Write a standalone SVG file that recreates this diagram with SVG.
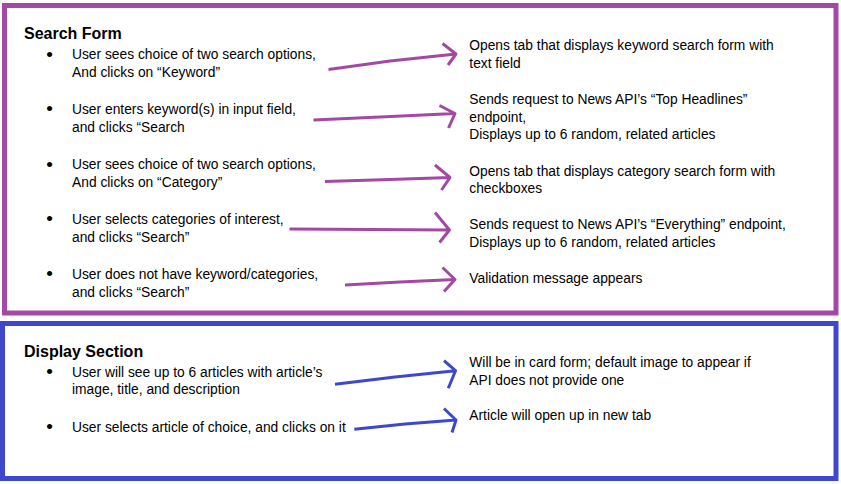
<svg xmlns="http://www.w3.org/2000/svg" width="841" height="484" viewBox="0 0 841 484">
<style>
.t{font-family:"Liberation Sans",Arial,sans-serif;font-size:13.8px;fill:#000}
.h{font-family:"Liberation Sans",Arial,sans-serif;font-size:16px;font-weight:bold;fill:#000}
.b{font-family:"Liberation Sans",Arial,sans-serif;font-size:19px;fill:#000}
.p{fill:none;stroke:#A349A4;stroke-width:3;stroke-linejoin:round}
.q{fill:none;stroke:#3F48CC;stroke-width:3;stroke-linejoin:round}
</style>
<rect width="841" height="484" fill="#fff"/>
<g id="search-form">
<rect x="4.5" y="5.5" width="831.5" height="307.5" fill="none" stroke="#A349A4" stroke-width="5"/>
<text class="h" x="24" y="39">Search Form</text>
</g>
<g id="display-section">
<rect x="2.5" y="323.5" width="833.5" height="155" fill="none" stroke="#3F48CC" stroke-width="5"/>
<text class="h" x="24" y="357.3">Display Section</text>
</g>
<g id="s1">
<text class="b" x="46.2" y="60.7">•</text>
<text class="t" x="72" y="59.3">User sees choice of two search options,</text>
<text class="t" x="72" y="76.7">And clicks on “Keyword”</text>
</g>
<g id="s2">
<text class="b" x="46.2" y="115.4">•</text>
<text class="t" x="72" y="114">User enters keyword(s) in input field,</text>
<text class="t" x="72" y="131.5">and clicks “Search</text>
</g>
<g id="s3">
<text class="b" x="46.2" y="170.7">•</text>
<text class="t" x="72" y="169.3">User sees choice of two search options,</text>
<text class="t" x="72" y="186.7">And clicks on “Category”</text>
</g>
<g id="s4">
<text class="b" x="46.2" y="225.4">•</text>
<text class="t" x="72" y="224">User selects categories of interest,</text>
<text class="t" x="72" y="241.7">and clicks “Search”</text>
</g>
<g id="s5">
<text class="b" x="46.2" y="280.4">•</text>
<text class="t" x="72" y="279">User does not have keyword/categories,</text>
<text class="t" x="72" y="296.7">and clicks “Search”</text>
</g>
<g id="r1">
<text class="t" x="469.3" y="50">Opens tab that displays keyword search form with</text>
<text class="t" x="469.3" y="67.5">text field</text>
</g>
<g id="r2">
<text class="t" x="469.3" y="104">Sends request to News API’s “Top Headlines”</text>
<text class="t" x="469.3" y="121.5">endpoint,</text>
<text class="t" x="469.3" y="139">Displays up to 6 random, related articles</text>
</g>
<g id="r3">
<text class="t" x="469.3" y="175.7">Opens tab that displays category search form with</text>
<text class="t" x="469.3" y="193.2">checkboxes</text>
</g>
<g id="r4">
<text class="t" x="469.3" y="229">Sends request to News API’s “Everything” endpoint,</text>
<text class="t" x="469.3" y="246.7">Displays up to 6 random, related articles</text>
</g>
<g id="r5">
<text class="t" x="469.3" y="283.3">Validation message appears</text>
</g>
<g id="d1">
<text class="b" x="46.2" y="378.1">•</text>
<text class="t" x="72" y="376.7">User will see up to 6 articles with article’s</text>
<text class="t" x="72" y="394.3">image, title, and description</text>
</g>
<g id="d2">
<text class="b" x="46.2" y="433.1">•</text>
<text class="t" x="72" y="431.7">User selects article of choice, and clicks on it</text>
</g>
<g id="r6">
<text class="t" x="469.3" y="367">Will be in card form; default image to appear if</text>
<text class="t" x="469.3" y="384.5">API does not provide one</text>
</g>
<g id="r7">
<text class="t" x="469.3" y="420">Article will open up in new tab</text>
</g>
<g id="connectors">
<path class="p" d="M328.5,69.5 L390,61 L456,54 M442.5,43.5 L456,54 L448,65"/>
<path class="p" d="M313.5,120 L380,117 L455,113.5 M439.5,105.5 L455,113.5 L448.5,128"/>
<path class="p" d="M325,181.5 L390,179.5 L450,177.5 M435,165 L450,177.5 L441.5,190"/>
<path class="p" d="M289.5,229 L370,229.5 L449.5,230 M435,212.5 L449.5,230 L439.5,242.5"/>
<path class="p" d="M345,285 L400,282 L455,279.5 M442.5,267.5 L455,279.5 L444,291.5"/>
<path class="q" d="M335,384.3 L395,377 L455.5,370.7 M444,360.7 L455.5,370.7 L448.3,388.3"/>
<path class="q" d="M354.3,429.3 L405,424 L456,420 M444,408.5 L456,420 L452,432.5"/>
</g>
</svg>
